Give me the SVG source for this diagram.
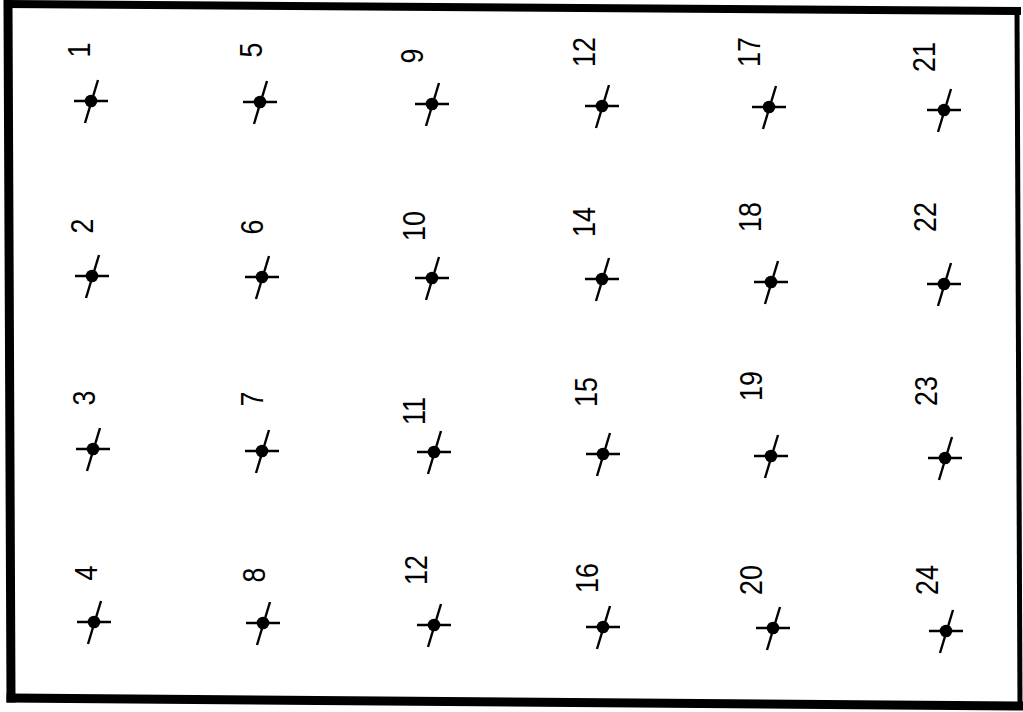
<svg xmlns="http://www.w3.org/2000/svg" xmlns:xlink="http://www.w3.org/1999/xlink" width="1023" height="712" viewBox="0 0 1023 712">
<style>
.lbl{font-family:"Liberation Sans",Arial,sans-serif;font-size:32px;fill:#000;text-anchor:middle}
.ln{stroke:#000;stroke-width:2.4;fill:none;stroke-linecap:butt}
.frame{stroke:#000;fill:none;stroke-linecap:square}
</style>
<defs>
<g id="sym">
<line class="ln" x1="-17" y1="0" x2="17" y2="0"/>
<line class="ln" x1="7" y1="-21" x2="-6" y2="22"/>
<circle r="6.3" fill="#000"/>
</g>
</defs>
<rect width="1023" height="712" fill="#fff"/>
<g id="frame">
<line class="frame" x1="8" y1="4" x2="1017" y2="11" stroke-width="8"/>
<line class="frame" x1="8" y1="4" x2="11" y2="698" stroke-width="9"/>
<line class="frame" x1="1017" y1="11" x2="1020" y2="706" stroke-width="5"/>
<line class="frame" x1="11" y1="698" x2="1020" y2="706" stroke-width="9"/>
</g>
<g id="connectors"></g>
<g id="p1"><use xlink:href="#sym" x="91" y="101"/><text class="lbl" transform="translate(90,50) rotate(-90) scale(0.84,1)">1</text></g>
<g id="p5"><use xlink:href="#sym" x="260" y="102"/><text class="lbl" transform="translate(262,50) rotate(-90) scale(0.84,1)">5</text></g>
<g id="p9"><use xlink:href="#sym" x="432" y="104"/><text class="lbl" transform="translate(423,56) rotate(-90) scale(0.84,1)">9</text></g>
<g id="p13"><use xlink:href="#sym" x="602" y="106"/><text class="lbl" transform="translate(595,52) rotate(-90) scale(0.84,1)">12</text></g>
<g id="p17"><use xlink:href="#sym" x="769" y="107"/><text class="lbl" transform="translate(760,52) rotate(-90) scale(0.84,1)">17</text></g>
<g id="p21"><use xlink:href="#sym" x="944" y="110"/><text class="lbl" transform="translate(935,57) rotate(-90) scale(0.84,1)">21</text></g>

<g id="p2"><use xlink:href="#sym" x="92" y="276"/><text class="lbl" transform="translate(93,226) rotate(-90) scale(0.84,1)">2</text></g>
<g id="p6"><use xlink:href="#sym" x="262" y="277"/><text class="lbl" transform="translate(263,227) rotate(-90) scale(0.84,1)">6</text></g>
<g id="p10"><use xlink:href="#sym" x="432" y="278"/><text class="lbl" transform="translate(425,226) rotate(-90) scale(0.84,1)">10</text></g>
<g id="p14"><use xlink:href="#sym" x="602" y="279"/><text class="lbl" transform="translate(595,222) rotate(-90) scale(0.84,1)">14</text></g>
<g id="p18"><use xlink:href="#sym" x="771" y="282"/><text class="lbl" transform="translate(761,217) rotate(-90) scale(0.84,1)">18</text></g>
<g id="p22"><use xlink:href="#sym" x="944" y="284"/><text class="lbl" transform="translate(936,217) rotate(-90) scale(0.84,1)">22</text></g>

<g id="p3"><use xlink:href="#sym" x="93" y="449"/><text class="lbl" transform="translate(95,398) rotate(-90) scale(0.84,1)">3</text></g>
<g id="p7"><use xlink:href="#sym" x="262" y="451"/><text class="lbl" transform="translate(263,399) rotate(-90) scale(0.84,1)">7</text></g>
<g id="p11"><use xlink:href="#sym" x="434" y="452"/><text class="lbl" transform="translate(425,411) rotate(-90) scale(0.84,1)">11</text></g>
<g id="p15"><use xlink:href="#sym" x="603" y="454"/><text class="lbl" transform="translate(597,392) rotate(-90) scale(0.84,1)">15</text></g>
<g id="p19"><use xlink:href="#sym" x="771" y="456"/><text class="lbl" transform="translate(762,386) rotate(-90) scale(0.84,1)">19</text></g>
<g id="p23"><use xlink:href="#sym" x="945" y="458"/><text class="lbl" transform="translate(937,391) rotate(-90) scale(0.84,1)">23</text></g>

<g id="p4"><use xlink:href="#sym" x="94" y="622"/><text class="lbl" transform="translate(97,573) rotate(-90) scale(0.84,1)">4</text></g>
<g id="p8"><use xlink:href="#sym" x="263" y="623"/><text class="lbl" transform="translate(265,575) rotate(-90) scale(0.84,1)">8</text></g>
<g id="p12"><use xlink:href="#sym" x="434" y="625"/><text class="lbl" transform="translate(427,570) rotate(-90) scale(0.84,1)">12</text></g>
<g id="p16"><use xlink:href="#sym" x="603" y="627"/><text class="lbl" transform="translate(598,578) rotate(-90) scale(0.84,1)">16</text></g>
<g id="p20"><use xlink:href="#sym" x="773" y="628"/><text class="lbl" transform="translate(762,580) rotate(-90) scale(0.84,1)">20</text></g>
<g id="p24"><use xlink:href="#sym" x="946" y="631"/><text class="lbl" transform="translate(938,580) rotate(-90) scale(0.84,1)">24</text></g>
</svg>
